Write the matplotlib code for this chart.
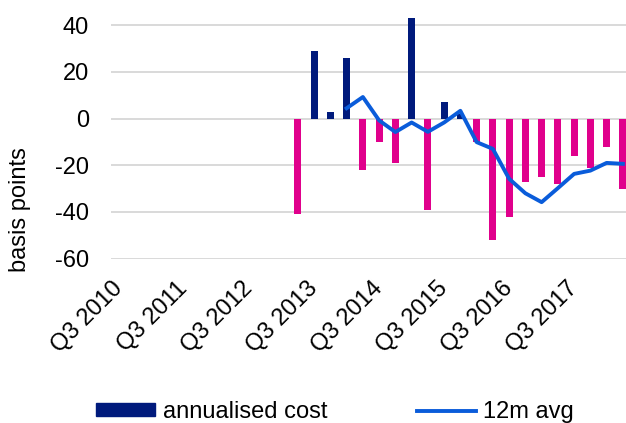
import matplotlib
matplotlib.use("Agg")
import matplotlib.pyplot as plt
from matplotlib.patches import Patch
from matplotlib.lines import Line2D

plt.rcParams['font.family'] = ['Liberation Sans', 'DejaVu Sans']
plt.rcParams['axes.unicode_minus'] = False

# quarters Q3 2010 .. Q2 2018
quarters = []
for y in range(2010, 2019):
    for q in range(1, 5):
        if (y == 2010 and q < 3) or (y == 2018 and q > 2):
            continue
        quarters.append("Q%d %d" % (q, y))

# annualised cost (bp), None = no data
cost = [None] * 11 + [-41, 29, 3, 26, -22, -10, -19, 43, -39, 7, 2,
                      -10, -52, -42, -27, -25, -28, -16, -21, -12, -30]
# 12m avg (bp)
avg = [None] * 14 + [4.4, 9.2, -0.8, -5.8, -1.7, -5.7, -1.7, 3.3,
                     -10.1, -13, -25.8, -32, -35.8, -29.8, -23.7, -22.3, -19, -19.4]

navy = '#001A7C'
magenta = '#E0008C'
blue = '#0A5CDA'
fs = 17

fig = plt.figure(figsize=(6.26, 4.23), dpi=100)
ax = fig.add_axes([111/626, (423-258.7)/423, 520/626, 257/423])

bx = [i for i, v in enumerate(cost) if v is not None]
bv = [v for v in cost if v is not None]
bc = [navy if v >= 0 else magenta for v in bv]
ax.bar(bx, bv, width=0.42, color=bc, zorder=2)

lx = [i for i, v in enumerate(avg) if v is not None]
lv = [v for v in avg if v is not None]
ax.plot(lx, lv, color=blue, lw=2.8, zorder=3, solid_joinstyle='round')

ax.set_xlim(-0.5, len(quarters) - 0.5)
ax.set_ylim(-60, 50)
ax.set_yticks(range(-60, 41, 20))
ax.yaxis.grid(True, color='#D9D9D9', lw=1.4, zorder=0)
ax.set_axisbelow(True)
for s in ax.spines.values():
    s.set_visible(False)
ax.tick_params(axis='both', length=0, labelsize=fs)
ax.tick_params(axis='y', pad=16)
ax.tick_params(axis='x', pad=19)

xt = list(range(0, len(quarters), 4))
ax.set_xticks(xt)
ax.set_xticklabels([quarters[i] for i in xt], rotation=45, ha='right',
                   va='center', rotation_mode='anchor')

fig.text(20/626, 1 - 210/423, 'basis points', rotation=90, fontsize=fs,
         ha='center', va='center')

handles = [Patch(color=navy), Line2D([], [], color=blue, lw=2.8)]
fig.legend(handles, ['annualised cost', '12m avg'], ncol=2, frameon=False,
           loc='center', bbox_to_anchor=(335/626, 1 - 412/423), fontsize=fs,
           handlelength=2.5, handleheight=0.42, columnspacing=3.8,
           handletextpad=0.3)

fig.savefig('out.png', dpi=100)
